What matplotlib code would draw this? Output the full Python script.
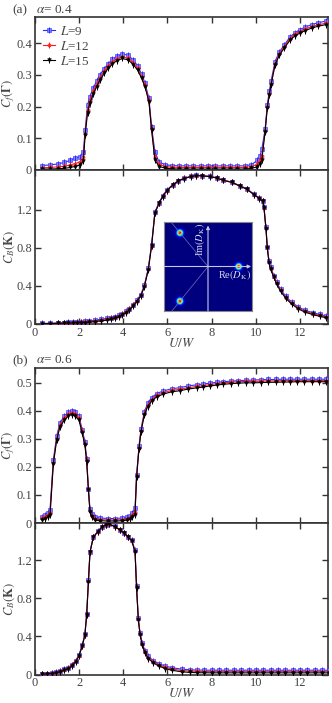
import numpy as np
import matplotlib
matplotlib.use("Agg")
import matplotlib.pyplot as plt

plt.rcParams['font.family'] = ['Liberation Serif', 'DejaVu Serif']
plt.rcParams['mathtext.fontset'] = 'stix'

# ---------------- data ----------------
series_labels = ["$L$=9", "$L$=12", "$L$=15"]

# panel (a): alpha = 0.4, C_f(Gamma)
xa = [0.30, 0.68, 1.03, 1.33, 1.59, 1.81, 2.04, 2.19, 2.27, 2.38,
      2.48, 2.64, 2.79, 2.94, 3.14, 3.32, 3.50, 3.70, 3.96, 4.23,
      4.45, 4.65, 4.83, 4.98, 5.16, 5.28, 5.43, 5.62, 5.89, 6.19,
      6.50, 6.83, 7.16, 7.50, 7.83, 8.16, 8.50, 8.83, 9.16, 9.50,
      9.80, 10.07, 10.19, 10.27, 10.42, 10.52, 10.61, 10.69, 10.87, 11.07,
      11.28, 11.55, 11.78, 12.00, 12.23, 12.53, 12.83, 13.18]
cfa_L15 = [0.003, 0.003, 0.004, 0.005, 0.008, 0.011, 0.016, 0.028, 0.110, 0.180,
           0.210, 0.240, 0.263, 0.284, 0.305, 0.321, 0.334, 0.345, 0.352, 0.347,
           0.333, 0.315, 0.289, 0.263, 0.215, 0.126, 0.032, 0.011, 0.006, 0.004,
           0.003, 0.003, 0.003, 0.003, 0.003, 0.003, 0.003, 0.003, 0.003, 0.003,
           0.005, 0.010, 0.020, 0.030, 0.120, 0.195, 0.237, 0.268, 0.331, 0.363,
           0.384, 0.410, 0.424, 0.432, 0.440, 0.448, 0.454, 0.459]
cfa_L12 = [0.007, 0.008, 0.010, 0.012, 0.016, 0.020, 0.026, 0.040, 0.115, 0.190,
           0.220, 0.248, 0.272, 0.292, 0.312, 0.328, 0.341, 0.351, 0.357, 0.353,
           0.339, 0.321, 0.295, 0.268, 0.220, 0.130, 0.040, 0.018, 0.011, 0.009,
           0.008, 0.008, 0.008, 0.008, 0.008, 0.008, 0.008, 0.008, 0.008, 0.008,
           0.011, 0.018, 0.030, 0.045, 0.122, 0.198, 0.240, 0.272, 0.335, 0.367,
           0.389, 0.415, 0.429, 0.437, 0.445, 0.453, 0.459, 0.463]
cfa_L9 = [0.014, 0.016, 0.019, 0.024, 0.030, 0.037, 0.042, 0.058, 0.126, 0.205,
          0.232, 0.258, 0.282, 0.301, 0.320, 0.336, 0.349, 0.359, 0.366, 0.362,
          0.347, 0.329, 0.302, 0.275, 0.226, 0.137, 0.057, 0.025, 0.017, 0.014,
          0.013, 0.013, 0.013, 0.013, 0.013, 0.013, 0.013, 0.013, 0.013, 0.013,
          0.017, 0.030, 0.045, 0.065, 0.128, 0.205, 0.248, 0.280, 0.342, 0.373,
          0.394, 0.420, 0.434, 0.443, 0.451, 0.459, 0.465, 0.470]

# panel (a): C_B(K)
xb = [0.30, 0.68, 1.03, 1.33, 1.50, 1.70, 1.90, 2.10, 2.26, 2.45,
      2.72, 3.00, 3.25, 3.45, 3.62, 3.80, 3.96, 4.12, 4.27, 4.45,
      4.60, 4.79, 4.95, 5.13, 5.28, 5.43, 5.62, 5.78, 5.96, 6.23,
      6.49, 6.76, 7.05, 7.30, 7.55, 7.93, 8.23, 8.53, 8.91, 9.28,
      9.58, 9.92, 10.16, 10.31, 10.37, 10.46, 10.52, 10.60, 10.67, 10.82,
      10.94, 11.12, 11.36, 11.62, 11.92, 12.22, 12.57, 12.90, 13.20]
cba_L15 = [0.003, 0.004, 0.006, 0.008, 0.009, 0.010, 0.011, 0.013, 0.014, 0.018,
           0.025, 0.032, 0.040, 0.050, 0.060, 0.075, 0.095, 0.120, 0.147, 0.190,
           0.235, 0.295, 0.390, 0.570, 0.820, 1.165, 1.270, 1.340, 1.400, 1.460,
           1.505, 1.530, 1.550, 1.560, 1.558, 1.550, 1.535, 1.510, 1.490, 1.450,
           1.420, 1.360, 1.320, 1.290, 1.220, 1.000, 0.800, 0.640, 0.575, 0.490,
           0.420, 0.345, 0.270, 0.210, 0.160, 0.125, 0.100, 0.080, 0.065]
cba_L12 = [0.004, 0.005, 0.008, 0.010, 0.012, 0.014, 0.016, 0.018, 0.020, 0.024,
           0.032, 0.040, 0.048, 0.058, 0.068, 0.083, 0.102, 0.127, 0.153, 0.195,
           0.240, 0.300, 0.395, 0.575, 0.825, 1.170, 1.272, 1.342, 1.402, 1.462,
           1.507, 1.532, 1.552, 1.562, 1.560, 1.552, 1.537, 1.512, 1.492, 1.452,
           1.422, 1.362, 1.322, 1.292, 1.225, 1.005, 0.805, 0.648, 0.582, 0.498,
           0.428, 0.353, 0.278, 0.219, 0.170, 0.135, 0.110, 0.090, 0.075]
cba_L9 = [0.006, 0.008, 0.011, 0.014, 0.016, 0.019, 0.022, 0.025, 0.028, 0.032,
          0.040, 0.050, 0.058, 0.068, 0.078, 0.092, 0.110, 0.135, 0.160, 0.202,
          0.248, 0.308, 0.405, 0.585, 0.835, 1.180, 1.275, 1.345, 1.405, 1.465,
          1.508, 1.533, 1.553, 1.563, 1.561, 1.553, 1.538, 1.513, 1.493, 1.455,
          1.425, 1.365, 1.325, 1.295, 1.230, 1.020, 0.815, 0.660, 0.595, 0.510,
          0.440, 0.365, 0.290, 0.230, 0.180, 0.145, 0.120, 0.100, 0.085]

# panel (b): alpha = 0.6, C_f(Gamma)
xc = [0.30, 0.45, 0.57, 0.68, 0.83, 0.98, 1.13, 1.33, 1.51, 1.66,
      1.81, 1.99, 2.14, 2.26, 2.34, 2.42, 2.49, 2.60, 2.72, 2.94,
      3.29, 3.62, 3.96, 4.15, 4.30, 4.41, 4.53, 4.60, 4.71, 4.80,
      4.95, 5.10, 5.28, 5.51, 5.81, 6.19, 6.57, 6.94, 7.32, 7.62,
      7.92, 8.23, 8.53, 8.87, 9.20, 9.55, 9.89, 10.23, 10.57, 10.91,
      11.25, 11.55, 11.85, 12.19, 12.53, 12.86, 13.20]
cfb_L15 = [0.012, 0.015, 0.020, 0.027, 0.210, 0.295, 0.343, 0.367, 0.382, 0.387,
           0.382, 0.367, 0.320, 0.277, 0.218, 0.116, 0.038, 0.020, 0.010, 0.008,
           0.007, 0.007, 0.008, 0.010, 0.013, 0.020, 0.030, 0.163, 0.265, 0.325,
           0.385, 0.415, 0.435, 0.450, 0.460, 0.468, 0.472, 0.478, 0.482, 0.485,
           0.489, 0.492, 0.495, 0.497, 0.499, 0.500, 0.500, 0.501, 0.502, 0.502,
           0.503, 0.503, 0.504, 0.504, 0.504, 0.504, 0.504]
cfb_L12 = [0.017, 0.021, 0.027, 0.035, 0.215, 0.300, 0.350, 0.374, 0.389, 0.393,
           0.389, 0.374, 0.327, 0.283, 0.224, 0.120, 0.042, 0.025, 0.015, 0.012,
           0.011, 0.011, 0.012, 0.015, 0.019, 0.027, 0.038, 0.166, 0.268, 0.329,
           0.390, 0.420, 0.440, 0.455, 0.465, 0.473, 0.477, 0.483, 0.487, 0.490,
           0.494, 0.497, 0.500, 0.502, 0.504, 0.505, 0.505, 0.506, 0.507, 0.507,
           0.508, 0.508, 0.508, 0.508, 0.508, 0.508, 0.508]
cfb_L9 = [0.022, 0.027, 0.035, 0.048, 0.225, 0.310, 0.357, 0.382, 0.396, 0.399,
          0.396, 0.381, 0.333, 0.290, 0.230, 0.122, 0.050, 0.032, 0.022, 0.018,
          0.016, 0.016, 0.018, 0.021, 0.026, 0.035, 0.052, 0.170, 0.275, 0.335,
          0.395, 0.427, 0.447, 0.462, 0.471, 0.479, 0.483, 0.489, 0.493, 0.496,
          0.499, 0.502, 0.504, 0.506, 0.508, 0.509, 0.510, 0.511, 0.512, 0.512,
          0.513, 0.513, 0.513, 0.513, 0.513, 0.513, 0.513]

# panel (b): C_B(K)
xd = [0.30, 0.53, 0.75, 0.94, 1.13, 1.33, 1.51, 1.66, 1.84, 1.99,
      2.14, 2.26, 2.34, 2.42, 2.49, 2.64, 2.84, 3.02, 3.20, 3.35,
      3.62, 3.85, 4.05, 4.23, 4.38, 4.53, 4.60, 4.68, 4.76, 4.86,
      4.98, 5.13, 5.36, 5.62, 5.89, 6.19, 6.64, 7.00, 7.33, 7.67,
      8.00, 8.33, 8.67, 9.00, 9.33, 9.67, 10.00, 10.33, 10.67, 11.00,
      11.33, 11.67, 12.00, 12.33, 12.67, 13.00, 13.30]
cbb_L15 = [0.002, 0.005, 0.010, 0.017, 0.028, 0.045, 0.060, 0.090, 0.133, 0.193,
           0.298, 0.414, 0.624, 0.975, 1.284, 1.442, 1.500, 1.547, 1.571, 1.582,
           1.553, 1.519, 1.484, 1.442, 1.406, 1.290, 0.905, 0.572, 0.414, 0.308,
           0.228, 0.168, 0.122, 0.087, 0.063, 0.045, 0.028, 0.022, 0.019, 0.018,
           0.017, 0.017, 0.017, 0.017, 0.017, 0.017, 0.017, 0.017, 0.017, 0.017,
           0.017, 0.017, 0.017, 0.017, 0.017, 0.017, 0.017]
cbb_L12 = [0.004, 0.008, 0.013, 0.021, 0.033, 0.050, 0.066, 0.096, 0.139, 0.199,
           0.303, 0.418, 0.628, 0.978, 1.286, 1.444, 1.502, 1.549, 1.573, 1.584,
           1.555, 1.521, 1.486, 1.444, 1.408, 1.300, 0.915, 0.580, 0.422, 0.317,
           0.238, 0.178, 0.133, 0.099, 0.076, 0.058, 0.042, 0.036, 0.033, 0.031,
           0.030, 0.030, 0.030, 0.030, 0.030, 0.030, 0.030, 0.030, 0.030, 0.030,
           0.030, 0.030, 0.030, 0.030, 0.030, 0.030, 0.030]
cbb_L9 = [0.006, 0.010, 0.016, 0.025, 0.038, 0.056, 0.073, 0.103, 0.146, 0.206,
          0.310, 0.425, 0.640, 0.990, 1.290, 1.446, 1.504, 1.551, 1.575, 1.586,
          1.557, 1.523, 1.488, 1.446, 1.410, 1.310, 0.930, 0.590, 0.432, 0.328,
          0.250, 0.190, 0.146, 0.113, 0.090, 0.072, 0.056, 0.050, 0.047, 0.046,
          0.045, 0.045, 0.045, 0.045, 0.045, 0.045, 0.045, 0.045, 0.045, 0.045,
          0.045, 0.045, 0.045, 0.045, 0.045, 0.045, 0.045]

# inset: positions of the three peaks in the complex plane of D_K
spot_re = [-0.64, -0.64, 0.70]
spot_im = [0.76, -0.78, 0.0]

xticks = [0, 2, 4, 6, 8, 10, 12]

# ---------------- styling ----------------
colors = ['#2a2aff', '#ff1a1a', '#000000']
mfc = ['#8080ff', '#ff4040', '#000000']
markers = ['s', 'o', 'v']
msizes = [2.6, 2.3, 2.6]
txt_col = '#444444'
spine_col = '#333333'

W, H = 332, 703
fig = plt.figure(figsize=(W / 100, H / 100), dpi=100)

def ax_rect(top_px, bot_px, left_px=35, right_px=328):
    return [left_px / W, 1 - bot_px / H, (right_px - left_px) / W, (bot_px - top_px) / H]

def style(ax, show_xlabels):
    for s in ax.spines.values():
        s.set_color(spine_col)
        s.set_linewidth(1.2)
    ax.tick_params(direction='in', top=True, right=True, length=4, width=1.0,
                   color=spine_col, labelsize=9, labelcolor=txt_col, pad=2)
    ax.set_xlim(0, 13.27)
    ax.set_xticks(xticks)
    if show_xlabels:
        ax.set_xticklabels([str(t) for t in xticks])
    else:
        ax.set_xticklabels([])

def draw(ax, x, ys):
    handles = []
    for y, c, fc, m, ms in zip(ys, colors, mfc, markers, msizes):
        ln, = ax.plot(x, y, '-', color=c, lw=0.8, marker=m, ms=ms,
                      mfc=fc, mec=c, mew=0.4, zorder=3)
        tk, = ax.plot(x, y, ls='none', marker='|', ms=4.5, mew=0.7, color=c, zorder=3)
        handles.append((ln, tk))
    return handles

def fmt_ticks(vals):
    return ['0' if v == 0 else ('%g' % v) for v in vals]

def set_ylab(ax, text):
    ax.set_ylabel(text, color=txt_col, fontsize=9)
    ax.yaxis.set_label_coords(-0.06, 0.5)

def set_xlab(ax):
    ax.set_xlabel(r'$U/W$', color=txt_col, fontsize=9.5)
    ax.xaxis.set_label_coords(0.5, -0.085)

# ---- panel (a) top ----
ax1 = fig.add_axes(ax_rect(17, 170))
h = draw(ax1, xa, [cfa_L9, cfa_L12, cfa_L15])
ax1.set_ylim(0, 0.483)
yt = [0, 0.1, 0.2, 0.3, 0.4]
ax1.set_yticks(yt)
ax1.set_yticklabels(fmt_ticks(yt))
style(ax1, False)
set_ylab(ax1, r'$C_f(\mathbf{\Gamma})$')
leg = ax1.legend(h, series_labels, loc='upper left', frameon=False, fontsize=9.5,
                 handlelength=0.9, handletextpad=0.4, labelspacing=0.15,
                 borderaxespad=0.2)
for t in leg.get_texts():
    t.set_color(txt_col)

# ---- panel (a) bottom ----
ax2 = fig.add_axes(ax_rect(170, 324))
draw(ax2, xb, [cba_L9, cba_L12, cba_L15])
ax2.set_ylim(0, 1.62)
yt = [0, 0.4, 0.8, 1.2]
ax2.set_yticks(yt)
ax2.set_yticklabels(fmt_ticks(yt))
style(ax2, True)
set_ylab(ax2, r'$C_B(\mathbf{K})$')
set_xlab(ax2)

# ---- inset ----
axi = fig.add_axes([164 / W, 1 - 311 / H, 88 / W, 89 / H])
g = np.linspace(-1, 1, 300)
GX, GY = np.meshgrid(g, g)
img = np.zeros_like(GX)
for sx, sy in zip(spot_re, spot_im):
    img += np.exp(-((GX - sx) ** 2 + (GY - sy) ** 2) / (2 * 0.045 ** 2))
axi.imshow(img, extent=[-1, 1, -1, 1], origin='lower', cmap='jet',
           vmin=0, vmax=1.0, interpolation='bilinear', aspect='auto')
for sx, sy in zip(spot_re, spot_im):
    if sx < 0:
        axi.plot([0, sx * 1.3], [0, sy * 1.3], color='#8c8cc8', lw=0.5, alpha=0.8)
axi.annotate('', xy=(0, 0.92), xytext=(0, -1),
             arrowprops=dict(arrowstyle='-|>', color='#c8c8e6', lw=0.8,
                             mutation_scale=5, shrinkA=0, shrinkB=0))
axi.annotate('', xy=(0.98, 0), xytext=(-1, 0),
             arrowprops=dict(arrowstyle='-|>', color='#c8c8e6', lw=0.8,
                             mutation_scale=5, shrinkA=0, shrinkB=0))
axi.text(-0.17, 0.6, r'Im$(D_{\rm K})$', rotation=90, color='#d8d8ec',
         fontsize=7.5, ha='center', va='center')
axi.text(0.6, -0.19, r'Re$(D_{\rm K})$', color='#d8d8ec',
         fontsize=7.5, ha='center', va='center')
axi.set_xlim(-1, 1)
axi.set_ylim(-1, 1)
axi.set_xticks([])
axi.set_yticks([])
for s in axi.spines.values():
    s.set_color('#888888')
    s.set_linewidth(0.8)

# ---- panel (b) top ----
ax3 = fig.add_axes(ax_rect(368, 523))
draw(ax3, xc, [cfb_L9, cfb_L12, cfb_L15])
ax3.set_ylim(0, 0.553)
yt = [0, 0.1, 0.2, 0.3, 0.4, 0.5]
ax3.set_yticks(yt)
ax3.set_yticklabels(fmt_ticks(yt))
style(ax3, False)
set_ylab(ax3, r'$C_f(\mathbf{\Gamma})$')

# ---- panel (b) bottom ----
ax4 = fig.add_axes(ax_rect(523, 674.5))
draw(ax4, xd, [cbb_L9, cbb_L12, cbb_L15])
ax4.set_ylim(0, 1.593)
yt = [0, 0.4, 0.8, 1.2]
ax4.set_yticks(yt)
ax4.set_yticklabels(fmt_ticks(yt))
style(ax4, True)
set_ylab(ax4, r'$C_B(\mathbf{K})$')
set_xlab(ax4)

# panel labels
fig.text(12 / W, 1 - 10 / H, '(a)', fontsize=9.5, color=txt_col, va='center')
fig.text(36 / W, 1 - 10 / H, r'$\alpha$= 0.4', fontsize=9.5, color=txt_col, va='center')
fig.text(12 / W, 1 - 360 / H, '(b)', fontsize=9.5, color=txt_col, va='center')
fig.text(36 / W, 1 - 360 / H, r'$\alpha$= 0.6', fontsize=9.5, color=txt_col, va='center')

fig.savefig('out.png', dpi=100)
